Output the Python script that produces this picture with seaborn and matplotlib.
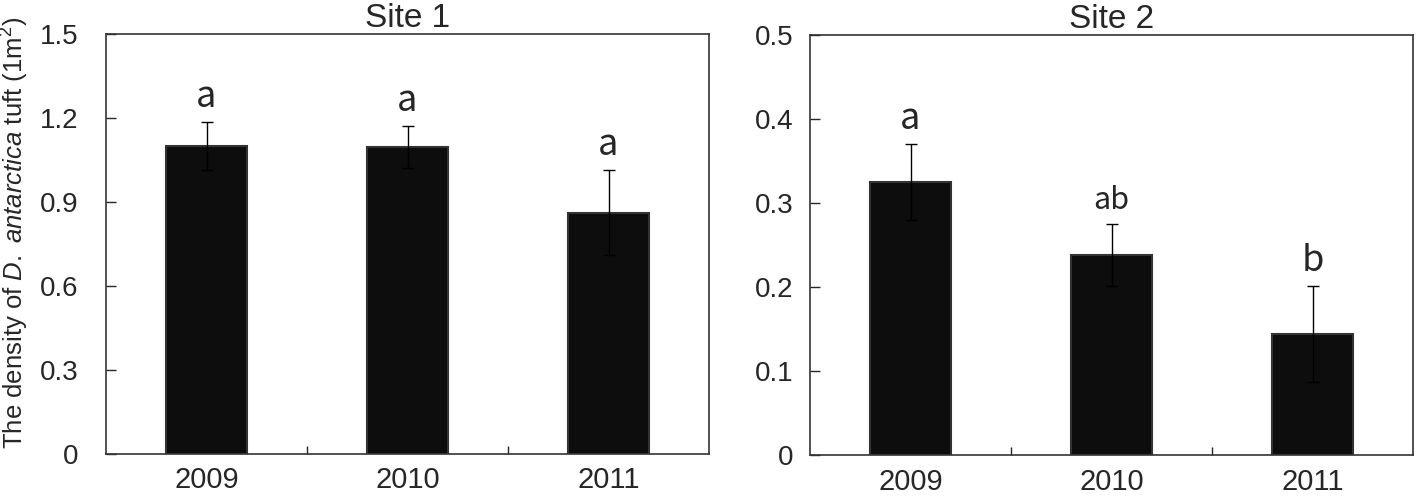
import numpy as np
import pandas as pd
import matplotlib
matplotlib.use('Agg')
import matplotlib.pyplot as plt
import seaborn as sns
from matplotlib.ticker import FuncFormatter, FixedLocator

years = ['2009', '2010', '2011']
site1_mean = [1.10, 1.095, 0.862]
site1_err = [0.085, 0.075, 0.152]
site1_letters = ['a', 'a', 'a']
site2_mean = [0.325, 0.238, 0.144]
site2_err = [0.045, 0.037, 0.057]
site2_letters = ['a', 'ab', 'b']

sns.set_style('white')
plt.rcParams['font.family'] = ['Liberation Sans', 'DejaVu Sans']
plt.rcParams['mathtext.fontset'] = 'custom'
plt.rcParams['mathtext.rm'] = 'Liberation Sans'
plt.rcParams['mathtext.it'] = 'Liberation Sans:italic'
kr = ['Noto Sans CJK KR', 'DejaVu Sans']

fig = plt.figure(figsize=(14.18, 5), dpi=100)
ax1 = fig.add_axes([106 / 1418, 1 - 454 / 500, 603 / 1418, 420 / 500])
ax2 = fig.add_axes([810 / 1418, 1 - 455 / 500, 603 / 1418, 420 / 500])


def fmt(v, pos):
    return '0' if abs(v) < 1e-9 else f'{v:.1f}'


def draw(ax, means, errs, letters, title, ymax, step, ypad):
    df = pd.DataFrame({'year': years, 'density': means})
    sns.barplot(data=df, x='year', y='density', color='#0d0d0d', width=0.4,
                edgecolor='#333333', linewidth=1.5, saturation=1, ax=ax)
    xs = [p.get_x() + p.get_width() / 2 for p in ax.patches]
    ax.errorbar(xs, means, yerr=errs, fmt='none', ecolor='black',
                elinewidth=1.0, capsize=4, capthick=1.0)
    for x, m, e, lab in zip(xs, means, errs, letters):
        size = 22 if len(lab) > 1 else 26
        ax.annotate(lab, (x, m + e), xytext=(0, 11), textcoords='offset points',
                    ha='center', va='baseline', fontsize=size, family=kr)
    ax.set_ylim(0, ymax)
    ax.set_xlim(-0.5, 2.5)
    ax.set_yticks(np.arange(0, ymax + step / 2, step))
    ax.yaxis.set_major_formatter(FuncFormatter(fmt))
    ax.tick_params(axis='y', direction='in', length=7, width=1, labelsize=20, pad=ypad, left=True)
    ax.tick_params(axis='x', which='major', length=0, labelsize=21, pad=9)
    ax.xaxis.set_minor_locator(FixedLocator([0.5, 1.5]))
    ax.tick_params(axis='x', which='minor', direction='in', length=6, width=1, bottom=True)
    ax.set_xlabel('')
    ax.set_ylabel('')
    for s in ax.spines.values():
        s.set_visible(True)
        s.set_color('#333333')
        s.set_linewidth(1.2)
    ax.set_title(title, fontsize=24, pad=5)


draw(ax1, site1_mean, site1_err, site1_letters, 'Site 1', 1.5, 0.3, 20)
draw(ax2, site2_mean, site2_err, site2_letters, 'Site 2', 0.5, 0.1, 12)
ax1.set_ylabel(r'The density of $\it{D.}$ $\it{antarctica}$ tuft (1m$^2$)', fontsize=18.5)
ax1.yaxis.set_label_coords(-0.124, 0.527)

fig.savefig('out.png', dpi=100)
